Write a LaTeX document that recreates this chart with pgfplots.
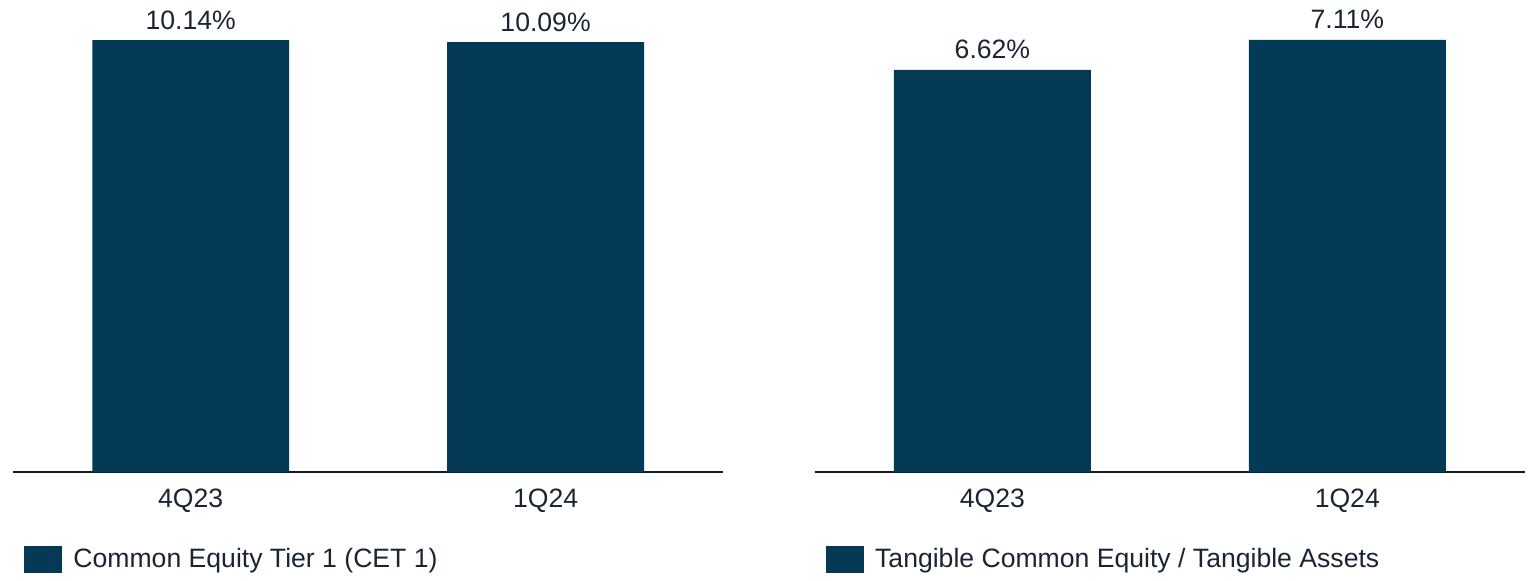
\documentclass[border=0pt]{standalone}
\usepackage{pgfplots}
\pgfplotsset{compat=1.18}
\usepackage{fontspec}
\setmainfont{Liberation Sans}
\definecolor{barcol}{HTML}{043A56}
\definecolor{txtcol}{HTML}{1A2533}
\definecolor{axcol}{HTML}{0B1C2B}
\pgfplotsset{
  mybar/.style={
    scale only axis,
    width=354.85pt, height=216pt,
    anchor=south west,
    ymin=0,
    xmin=-0.5, xmax=1.5,
    axis x line=bottom,
    axis y line=none,
    x axis line style={-, line width=1pt, color=axcol},
    xtick={0,1},
    xticklabels={4Q23,1Q24},
    major tick length=0pt,
    xticklabel style={anchor=base, yshift=-17.5pt, inner sep=0pt, text=txtcol},
    ytick=\empty,
    clip=false,
    font=\fontsize{13.3pt}{16pt}\selectfont,
    legend style={draw=none, fill=none, inner sep=0pt, anchor=west,
      font=\fontsize{13.3pt}{16pt}\selectfont, text=txtcol,
      nodes={inner sep=0pt},
      /tikz/every odd column/.append style={column sep=5.5pt}},
    legend image code/.code={\fill[barcol] (0pt,-6.75pt) rectangle (19pt,6.75pt);},
    legend cell align=left,
  },
  mybarplot/.style={
    ybar, bar width=0.555, fill=barcol, draw=none,
    point meta=explicit symbolic,
    nodes near coords={\pgfplotspointmeta\%},
    every node near coord/.append style={anchor=base, yshift=5.5pt, inner sep=0pt, text=txtcol, font=\fontsize{13.3pt}{16pt}\selectfont},
  },
}
\begin{document}
\begin{tikzpicture}
\useasboundingbox (0,0) rectangle (764.5pt,290pt);
\begin{axis}[mybar, at={(6.65pt,54pt)}, ymax=10.14,
  legend style={at={(axis description cs:0.0151,-0.2025)}}]
\addplot[mybarplot] table[meta=lab] {
x y lab
0 10.14 10.14
1 10.09 10.09
};
\addlegendentry{Common Equity Tier 1 (CET 1)}
\end{axis}
\begin{axis}[mybar, at={(407.5pt,54pt)}, ymax=7.11,
  legend style={at={(axis description cs:0.0151,-0.2025)}}]
\addplot[mybarplot] table[meta=lab] {
x y lab
0 6.62 6.62
1 7.11 7.11
};
\addlegendentry{Tangible Common Equity / Tangible Assets}
\end{axis}
\end{tikzpicture}
\end{document}
